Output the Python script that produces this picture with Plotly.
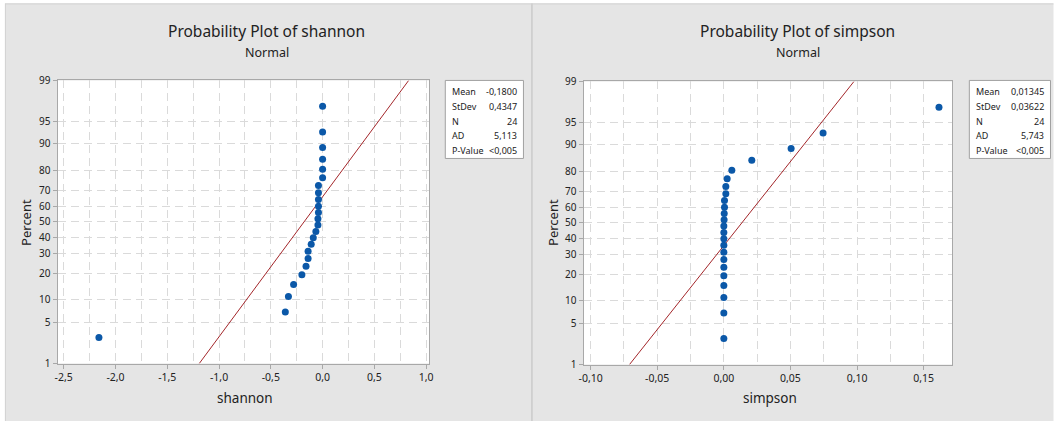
import plotly.graph_objects as go
from statistics import NormalDist

W, H = 1057, 421

# ---------------- data ----------------
shannon_values = [-2.16, -0.36, -0.33, -0.28, -0.20, -0.16, -0.14, -0.14, -0.11, -0.09,
                  -0.065, -0.04, -0.04, -0.045, -0.045, -0.04, -0.04, -0.04,
                  0.0, 0.0, 0.0, 0.0, 0.0, 0.0]
simpson_values = [0.0, 0.0, 0.0, 0.0, 0.0, 0.0, 0.0, 0.0, 0.0, 0.0,
                  0.0, 0.0, 0.0002, 0.0003, 0.0005, 0.0005, 0.0015, 0.0015, 0.0025, 0.006,
                  0.021, 0.0505, 0.0745, 0.1615]
shannon_stats = {"Mean": "-0,1800", "StDev": "0,4347", "N": "24", "AD": "5,113", "P-Value": "<0,005"}
simpson_stats = {"Mean": "0,01345", "StDev": "0,03622", "N": "24", "AD": "5,743", "P-Value": "<0,005"}
shannon_mean, shannon_sd = -0.1800, 0.4347
simpson_mean, simpson_sd = 0.01345, 0.03622

percent_ticks = [1, 5, 10, 20, 30, 40, 50, 60, 70, 80, 90, 95, 99]
shannon_xticks = [-2.5, -2.0, -1.5, -1.0, -0.5, 0.0, 0.5, 1.0]
shannon_xlabels = ["-2,5", "-2,0", "-1,5", "-1,0", "-0,5", "0,0", "0,5", "1,0"]
simpson_xticks = [-0.10, -0.05, 0.0, 0.05, 0.10, 0.15]
simpson_xlabels = ["-0,10", "-0,05", "0,00", "0,05", "0,10", "0,15"]

# ---------------- helpers ----------------
nd = NormalDist()
def z(p):
    return nd.inv_cdf(p)

# the photographed page appears slightly shrunk and offset; compensate
SX, OX = 0.9895, 5.6
SY, OY = 0.964, 7.6

def px(x):
    return ((x - OX) / SX) / W

def py(y):
    return 1 - ((y - OY) / SY) / H

def positions(n):
    return [z((i - 0.3) / (n + 0.4)) for i in range(1, n + 1)]

FONT = "Noto Sans, Open Sans, sans-serif"
GRID = "#dadada"
AXC = "#a8a8a8"
TXT = "#222222"
BLUE = "#0b58a8"
RED = "#a3262a"
PANEL = "#e5e5e5"

zlo, zhi = z(0.01), z(0.99)

fig = go.Figure()

panels = [
    dict(vals=shannon_values, mean=shannon_mean, sd=shannon_sd, stats=shannon_stats,
         xt=shannon_xticks, xl=shannon_xlabels, xr=[-2.56, 1.03], minor=0.25,
         name="shannon", dom=(58, 429), ydom=(80, 363), xa="x", ya="y",
         title_x=267, xlab_x=245, box=(445, 523), ylab_x=27),
    dict(vals=simpson_values, mean=simpson_mean, sd=simpson_sd, stats=simpson_stats,
         xt=simpson_xticks, xl=simpson_xlabels, xr=[-0.1053, 0.1715], minor=0.025,
         name="simpson", dom=(583, 951), ydom=(81, 364), xa="x2", ya="y2",
         title_x=797, xlab_x=769, box=(968, 1049), ylab_x=553),
]

shapes = []
annotations = []
# white page margins around the grey panels (top, left, right)
shapes.append(dict(type="rect", xref="paper", yref="paper", x0=px(-20), x1=px(1080),
                   y0=py(3), y1=py(-20), fillcolor="white", line=dict(width=0), layer="below"))
shapes.append(dict(type="rect", xref="paper", yref="paper", x0=px(-20), x1=px(6),
                   y0=py(440), y1=py(-20), fillcolor="white", line=dict(width=0), layer="below"))
shapes.append(dict(type="rect", xref="paper", yref="paper", x0=px(1052), x1=px(1080),
                   y0=py(440), y1=py(-20), fillcolor="white", line=dict(width=0), layer="below"))
# panel divider / borders
shapes.append(dict(type="line", xref="paper", yref="paper", x0=px(531.5), x1=px(531.5),
                   y0=py(440), y1=py(3), line=dict(color="#bdbdbd", width=1), layer="below"))
shapes.append(dict(type="line", xref="paper", yref="paper", x0=px(6), x1=px(1052),
                   y0=py(3.5), y1=py(3.5), line=dict(color="#d0d0d0", width=1), layer="below"))
shapes.append(dict(type="line", xref="paper", yref="paper", x0=px(6), x1=px(6),
                   y0=py(440), y1=py(3), line=dict(color="#d0d0d0", width=1), layer="below"))

layout_axes = {}
for i, p in enumerate(panels):
    ys = positions(len(p["vals"]))
    xs = sorted(p["vals"])
    fig.add_trace(go.Scatter(x=[p["mean"] + p["sd"] * zlo, p["mean"] + p["sd"] * zhi],
                             y=[zlo, zhi], mode="lines", line=dict(color=RED, width=1),
                             xaxis=p["xa"], yaxis=p["ya"], showlegend=False, hoverinfo="skip"))
    fig.add_trace(go.Scatter(x=xs, y=ys, mode="markers",
                             marker=dict(color=BLUE, size=7, line=dict(width=0)),
                             xaxis=p["xa"], yaxis=p["ya"], showlegend=False))
    # white plot area
    shapes.append(dict(type="rect", xref="paper", yref="paper",
                       x0=px(p["dom"][0]), x1=px(p["dom"][1]),
                       y0=py(p["ydom"][1]), y1=py(p["ydom"][0]),
                       fillcolor="white", line=dict(width=0), layer="below"))
    suffix = "" if i == 0 else "2"
    layout_axes["xaxis" + suffix] = dict(
        domain=[px(p["dom"][0]), px(p["dom"][1])], range=p["xr"],
        anchor="y" + suffix, tickmode="array", tickvals=p["xt"], ticktext=p["xl"],
        showline=True, mirror=True, linecolor=AXC, linewidth=1,
        ticks="outside", ticklen=4, tickcolor=AXC,
        showgrid=True, gridcolor=GRID, griddash="8px,5px", gridwidth=1, zeroline=False,
        minor=dict(dtick=p["minor"], tick0=0, showgrid=True, gridcolor=GRID,
                   griddash="8px,5px", ticks=""),
        tickfont=dict(family=FONT, size=10.5, color=TXT))
    layout_axes["yaxis" + suffix] = dict(
        domain=[py(p["ydom"][1]), py(p["ydom"][0])], range=[zlo, zhi],
        anchor="x" + suffix, tickmode="array", tickvals=[z(t / 100) for t in percent_ticks],
        ticktext=[str(t) for t in percent_ticks],
        showline=True, mirror=True, linecolor=AXC, linewidth=1,
        ticks="outside", ticklen=4, tickcolor=AXC,
        showgrid=True, gridcolor=GRID, griddash="8px,5px", gridwidth=1, zeroline=False,
        tickfont=dict(family=FONT, size=10, color=TXT))

    # titles
    annotations.append(dict(text="Probability Plot of " + p["name"], xref="paper", yref="paper",
                            x=px(p["title_x"]), y=py(31), showarrow=False, xanchor="center",
                            yanchor="middle", font=dict(family=FONT, size=15.5, color=TXT)))
    annotations.append(dict(text="Normal", xref="paper", yref="paper",
                            x=px(p["title_x"]), y=py(52), showarrow=False, xanchor="center",
                            yanchor="middle", font=dict(family=FONT, size=12.5, color=TXT)))
    annotations.append(dict(text=p["name"], xref="paper", yref="paper",
                            x=px(p["xlab_x"]), y=py(397), showarrow=False, xanchor="center",
                            yanchor="middle", font=dict(family=FONT, size=13.5, color=TXT)))
    annotations.append(dict(text="Percent", xref="paper", yref="paper", textangle=-90,
                            x=px(p["ylab_x"]), y=py(222), showarrow=False, xanchor="center",
                            yanchor="middle", font=dict(family=FONT, size=13, color=TXT)))
    # stats box
    bx0, bx1 = p["box"]
    shapes.append(dict(type="rect", xref="paper", yref="paper", x0=px(bx0), x1=px(bx1),
                       y0=py(158), y1=py(80), fillcolor="white",
                       line=dict(color="#a0a0a0", width=1), layer="above"))
    for k, (lab, val) in enumerate(p["stats"].items()):
        yy = 91.5 + k * 14.6
        annotations.append(dict(text=lab, xref="paper", yref="paper", x=px(bx0 + 5), y=py(yy),
                                showarrow=False, xanchor="left", yanchor="middle",
                                font=dict(family=FONT, size=9, color=TXT)))
        annotations.append(dict(text=val, xref="paper", yref="paper", x=px(bx1 - 4), y=py(yy),
                                showarrow=False, xanchor="right", yanchor="middle",
                                font=dict(family=FONT, size=9, color=TXT)))

fig.update_layout(width=W, height=H, margin=dict(l=0, r=0, t=0, b=0),
                  paper_bgcolor=PANEL, plot_bgcolor="rgba(0,0,0,0)",
                  shapes=shapes, annotations=annotations, showlegend=False,
                  **layout_axes)
fig.write_html("out.html", config={"displayModeBar": False},
               post_script="document.body.style.margin='0';document.body.style.padding='0';"
                           "document.documentElement.style.overflow='hidden';")
